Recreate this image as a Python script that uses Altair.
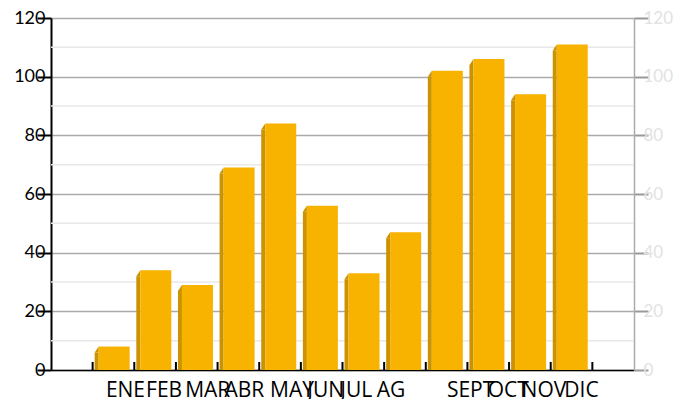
import altair as alt
import pandas as pd

# ---- data ----
months = ["ENE", "FEB", "MAR", "ABR", "MAY", "JUN", "JUL", "AG", "SEPT", "OCT", "NOV", "DIC"]
values = [8, 34, 29, 69, 84, 56, 33, 47, 102, 106, 94, 111]
y_ticks = [0, 20, 40, 60, 80, 100, 120]
minor_grid = [10, 30, 50, 70, 90, 110]

# ---- styling ----
label_shift = [12, 9, 11, 6, 12, 4, -7, -14, 24, 20, 14, 10]
FRONT = "#F8B200"
SIDE = "#CC9300"
W, H = 583, 352
pad_start, pad_end = " ", "  "
x_domain = [pad_start] + months + [pad_end]

df = pd.DataFrame({"month": months, "value": values})
df_ticks = pd.DataFrame({"month": months + [pad_end]})
df_minor = pd.DataFrame({"g": minor_grid})

offset_expr = " : ".join(
    [f"datum.value == '{m}' ? {o}" for m, o in zip(months, label_shift)]
) + " : 0"

xscale = alt.Scale(domain=x_domain, paddingInner=0, paddingOuter=0)
yscale = alt.Scale(domain=[0, 120], nice=False, zero=True)

LABEL_FONT = "Liberation Sans Narrow, Open Sans, sans-serif"
NUM_FONT = "Lato, Open Sans, sans-serif"

x_axis = alt.Axis(
    title=None, ticks=False, labelAngle=0, labelFontSize=21, labelFont=LABEL_FONT,
    labelColor="#000000", labelPadding=9, domainColor="#000000", domainWidth=1.5,
    grid=False, labelOffset={"expr": offset_expr},
)

left_axis = alt.Axis(
    title=None, values=y_ticks, grid=True, gridColor="#aaaaaa", gridWidth=1.5,
    domainColor="#000000", domainWidth=2, tickColor="#000000", tickWidth=2,
    tickSize=14, labelPadding=-8, labelFontSize=18, labelFont=NUM_FONT,
    labelColor="#000000",
)

right_axis = alt.Axis(
    title=None, orient="right", values=y_ticks, grid=False,
    domainColor="#aaaaaa", domainWidth=1.5, tickColor="#999999", tickWidth=2,
    tickSize=14, labelPadding=-5, labelFontSize=17, labelFont=NUM_FONT,
    labelColor="#e2e2e2",
)

base = alt.Chart(df)

minor = alt.Chart(df_minor).mark_rule(color="#e8e8e8", strokeWidth=1.5).encode(
    y=alt.Y("g:Q", scale=yscale, axis=left_axis),
    x=alt.value(0), x2=alt.value(W),
)

side = base.mark_bar(color=SIDE, width=4, xOffset=-16.8, yOffset=6, clip=True).encode(
    x=alt.X("month:N", scale=xscale, axis=x_axis, sort=x_domain),
    y=alt.Y("value:Q", scale=yscale, axis=right_axis),
)

tri = base.mark_point(
    shape="M -0.5 0.75 L 0.5 -0.75 L 0.5 0.75 Z", filled=True, size=64,
    color=SIDE, opacity=1, strokeWidth=0, xOffset=-16.8, yOffset=3,
).encode(
    x=alt.X("month:N", scale=xscale, sort=x_domain),
    y=alt.Y("value:Q", scale=yscale, axis=None),
)

front = base.mark_bar(color=FRONT, width=31, xOffset=0.7).encode(
    x=alt.X("month:N", scale=xscale, sort=x_domain),
    y=alt.Y("value:Q", scale=yscale, axis=None),
)

ticks = alt.Chart(df_ticks).mark_rule(color="#000000", strokeWidth=2).encode(
    x=alt.X("month:N", scale=xscale, bandPosition=0, sort=x_domain),
    y=alt.value(H), y2=alt.value(H - 8),
)

chart = (
    alt.layer(minor, side, tri, front, ticks)
    .resolve_scale(y="shared", x="shared")
    .resolve_axis(y="independent")
    .properties(
        width=W, height=H,
        autosize=alt.AutoSizeParams(type="none"),
        padding={"left": 43, "top": 10, "right": 40, "bottom": 29},
        background="#ffffff",
    )
    .configure_view(stroke=None)
)

chart.save("out.html", embed_options={"renderer": "svg", "actions": False})
